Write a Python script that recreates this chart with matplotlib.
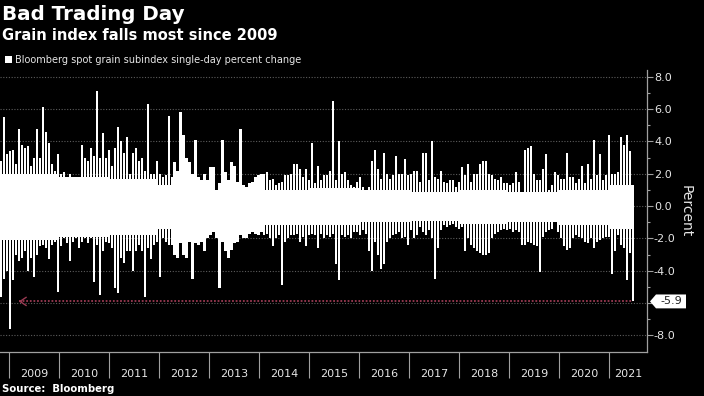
import pandas as pd
import matplotlib
matplotlib.use("Agg")
import matplotlib.pyplot as plt
from matplotlib.patches import Polygon, Rectangle

# sampled daily moves (per ~3 weeks: biggest gain and biggest loss), percent
first_day = "2008-11-04"
last_day = "2021-06-21"
highs = [
    2.8, 5.5, 3.2, 3.4, 3.5, 2.6, 4.8, 3.8, 3.6, 3.7, 2.5, 3.0, 4.8, 3.0, 6.1, 4.6, 3.9, 2.6,
    2.2, 3.2, 2.0, 2.1, 1.6, 2.0, 1.8, 1.5, 1.8, 3.8, 3.0, 2.8, 3.6, 3.1, 7.1, 3.0, 4.5, 3.0,
    3.5, 2.5, 3.6, 4.9, 4.0, 3.3, 4.3, 2.0, 3.3, 3.6, 2.8, 3.0, 2.2, 6.3, 2.0, 2.0, 2.8, 2.0,
    1.8, 1.9, 5.6, 1.8, 2.7, 2.2, 5.8, 4.4, 3.0, 2.7, 2.0, 4.1, 1.8, 1.6, 2.0, 1.6, 2.4, 2.4,
    1.0, 1.4, 4.1, 2.1, 1.6, 2.7, 2.5, 1.5, 4.8, 1.3, 1.2, 1.4, 1.5, 1.8, 1.9, 2.0, 2.0, 2.1,
    1.6, 1.7, 1.3, 1.4, 1.5, 1.9, 1.9, 2.0, 2.6, 2.6, 2.3, 1.8, 2.3, 1.6, 3.9, 1.4, 2.5, 1.6,
    1.9, 1.9, 2.2, 6.5, 1.6, 4.0, 2.0, 2.1, 1.6, 1.3, 1.2, 1.5, 1.8, 1.2, 0.9, 1.2, 2.8, 3.5,
    2.3, 1.7, 3.3, 2.0, 1.7, 1.9, 3.1, 2.0, 2.0, 2.9, 1.9, 2.0, 2.2, 2.2, 1.5, 3.3, 3.3, 1.6,
    4.0, 1.8, 1.7, 2.2, 1.5, 1.4, 1.6, 1.6, 1.2, 1.5, 2.4, 1.9, 2.6, 1.5, 2.0, 2.0, 2.6, 2.8,
    2.8, 2.0, 1.9, 1.7, 1.6, 1.8, 1.4, 1.4, 1.3, 1.4, 2.1, 1.5, 0.9, 3.5, 3.6, 3.7, 2.0, 1.6,
    1.6, 2.3, 3.2, 1.0, 1.3, 2.1, 1.9, 1.7, 1.7, 3.3, 1.8, 1.8, 1.4, 1.7, 2.5, 1.4, 2.6, 1.7,
    4.1, 1.9, 3.2, 1.6, 1.9, 4.4, 2.0, 2.0, 2.1, 4.3, 3.8, 4.4, 3.4, 0.3,
]
lows = [
    -5.6, -4.5, -4.0, -7.6, -4.6, -3.0, -3.4, -3.2, -2.8, -4.0, -3.2, -4.4, -3.0, -2.5, -2.4, -2.6, -3.3, -2.4,
    -2.2, -5.3, -2.5, -2.0, -2.3, -3.4, -2.2, -2.0, -2.6, -2.2, -2.0, -2.3, -2.0, -4.7, -2.4, -5.5, -2.8, -2.2,
    -2.3, -2.6, -5.1, -5.4, -3.2, -3.5, -2.8, -2.8, -4.0, -2.8, -2.4, -2.8, -5.6, -2.6, -3.3, -2.4, -2.2, -4.4,
    -2.0, -2.2, -2.4, -2.4, -3.0, -3.2, -2.3, -3.0, -3.2, -2.2, -4.5, -2.3, -2.4, -2.2, -2.8, -2.0, -1.8, -1.6,
    -2.0, -5.1, -2.2, -2.8, -3.2, -2.7, -2.3, -2.2, -1.8, -2.0, -2.0, -1.7, -1.6, -1.7, -1.8, -1.6, -1.8, -1.7,
    -2.0, -2.5, -2.0, -1.8, -4.9, -2.2, -2.0, -1.8, -1.8, -1.7, -2.2, -1.9, -2.5, -1.8, -1.7, -1.8, -2.6, -1.7,
    -2.0, -1.8, -1.9, -1.7, -3.6, -4.6, -1.8, -1.9, -1.8, -2.0, -1.6, -1.6, -1.8, -1.5, -1.7, -2.8, -4.0, -2.2,
    -3.0, -3.9, -3.6, -2.2, -2.0, -1.8, -1.7, -1.6, -2.0, -1.9, -2.4, -1.5, -2.0, -1.8, -1.3, -1.6, -1.8, -1.5,
    -2.0, -4.5, -2.6, -1.5, -1.2, -1.3, -1.2, -1.1, -1.3, -1.4, -1.3, -2.8, -2.0, -2.4, -2.6, -2.8, -2.9, -3.0,
    -3.0, -2.9, -2.0, -1.7, -1.6, -1.5, -1.4, -1.5, -1.4, -1.6, -1.5, -1.6, -2.4, -2.4, -2.2, -2.3, -2.4, -2.5,
    -4.1, -1.9, -1.6, -1.5, -1.4, -1.0, -1.6, -2.0, -2.5, -2.7, -2.6, -2.0, -1.8, -1.9, -2.0, -2.2, -2.3, -2.0,
    -2.6, -2.2, -2.1, -2.0, -1.9, -1.9, -4.2, -2.8, -1.8, -2.4, -2.6, -4.6, -2.9, -5.9,
]
# dense band of ordinary days, by year
years = list(range(2009, 2022))
core_up = [2.0, 1.8, 1.7, 1.3, 1.0, 1.0, 1.1, 1.0, 0.9, 1.0, 0.9, 1.0, 1.3]
core_down = [-2.1, -1.9, -1.8, -1.4, -1.2, -1.2, -1.2, -1.0, -0.9, -1.1, -1.0, -1.2, -1.4]
last_change = -5.9
prior_low_day = "2009-03-14"

W, H = 704, 396
fig = plt.figure(figsize=(W / 100, H / 100), dpi=100, facecolor="black")
ax = fig.add_axes([0, 44 / H, 647 / W, 282 / H])
ax.set_facecolor("black")

dates = pd.date_range(first_day, last_day, periods=len(highs))
yr_idx = [max(d.year, years[0]) - years[0] for d in dates]
ax.bar(dates, [core_up[i] for i in yr_idx], width=22, color="white", linewidth=0, zorder=2)
ax.bar(dates, [core_down[i] for i in yr_idx], width=22, color="white", linewidth=0, zorder=2)
ax.bar(dates, highs, width=16, color="white", linewidth=0, zorder=2)
ax.bar(dates, lows, width=16, color="white", linewidth=0, zorder=2)

x_left = pd.Timestamp("2008-10-28")
x_right = pd.Timestamp("2021-10-04")
ax.set_xlim(x_left, x_right)
ax.set_ylim(-9.03, 8.42)

for v in range(-8, 9, 2):
    ax.axhline(v, color="#5c5c5c", ls=(0, (1, 1.5)), lw=0.8, zorder=1)

# marker line back to the last comparable drop
red = "#9a3a52"
ax.plot([pd.Timestamp(prior_low_day), dates[-1]], [last_change, last_change],
        color=red, ls=(0, (1, 1)), lw=1.3, zorder=3)
ax.annotate("", xy=(pd.Timestamp(prior_low_day), last_change),
            xytext=(pd.Timestamp(prior_low_day) + pd.Timedelta(days=40), last_change),
            arrowprops=dict(arrowstyle="->,head_length=0.45,head_width=0.3", color=red, lw=1.0),
            zorder=3)

for s in ["top", "left"]:
    ax.spines[s].set_visible(False)
for s in ["right", "bottom"]:
    ax.spines[s].set_color("#a0a0a0")
    ax.spines[s].set_linewidth(0.9)

# y axis on the right
ax.yaxis.tick_right()
ax.yaxis.set_label_position("right")
yt = list(range(-8, 9, 2))
ax.set_yticks(yt)
ax.set_yticklabels(["" if v == -6 else f"{v:.1f}" for v in yt])
ax.set_yticks(list(range(-7, 9, 2)), minor=True)
ax.tick_params(axis="y", which="major", colors="#a0a0a0", labelcolor="#e6e6e6",
               labelsize=8, length=4, width=0.8, pad=1)
ax.tick_params(axis="y", which="minor", colors="#a0a0a0", length=2.5, width=0.8)
ax.set_ylabel("Percent", rotation=270, color="#e6e6e6", fontsize=10, labelpad=12)

# year dividers and centred year labels
year_starts = [pd.Timestamp(f"{y}-01-01") for y in years]
centers = []
for y, s in zip(years, year_starts):
    e = min(pd.Timestamp(f"{y + 1}-01-01"), x_right)
    centers.append(s + (e - s) / 2)
ax.set_xticks(year_starts)
ax.set_xticklabels([])
ax.set_xticks(centers, minor=True)
ax.set_xticklabels([str(y) for y in years], minor=True)
ax.tick_params(axis="x", which="major", colors="#a0a0a0", length=19, width=0.8, direction="out")
ax.tick_params(axis="x", which="minor", length=0, labelsize=8, labelcolor="#e6e6e6", pad=12)

# value tag for the latest drop
tr = ax.get_yaxis_transform()
aw = 647.0
hh = 0.43
tag = Polygon([(1 + 3 / aw, last_change), (1 + 9 / aw, last_change + hh), (1 + 39 / aw, last_change + hh),
               (1 + 39 / aw, last_change - hh), (1 + 9 / aw, last_change - hh)],
              closed=True, transform=tr, facecolor="white", edgecolor="none", clip_on=False, zorder=5)
ax.add_patch(tag)
ax.text(1 + 24 / aw, last_change, f"{last_change:.1f}", transform=tr, ha="center", va="center",
        fontsize=8, color="#202020", zorder=6, clip_on=False)

# headings
fig.text(2 / W, 1 - 20.5 / H, "Bad Trading Day", color="white", fontsize=14.3, fontweight="bold",
         va="baseline", ha="left")
fig.text(2 / W, 1 - 40.5 / H, "Grain index falls most since 2009", color="white", fontsize=10.5,
         fontweight="bold", va="baseline", ha="left")
fig.patches.append(Rectangle((5 / W, 1 - 63 / H), 6.5 / W, 7 / H, transform=fig.transFigure,
                             facecolor="white", edgecolor="none"))
fig.text(15 / W, 1 - 63 / H, "Bloomberg spot grain subindex single-day percent change",
         color="#e6e6e6", fontsize=7, va="baseline", ha="left")
fig.text(2 / W, 1 - 392 / H, "Source:  Bloomberg", color="white", fontsize=7.3, fontweight="bold",
         va="baseline", ha="left")

fig.savefig("out.png", dpi=100, facecolor="black")
